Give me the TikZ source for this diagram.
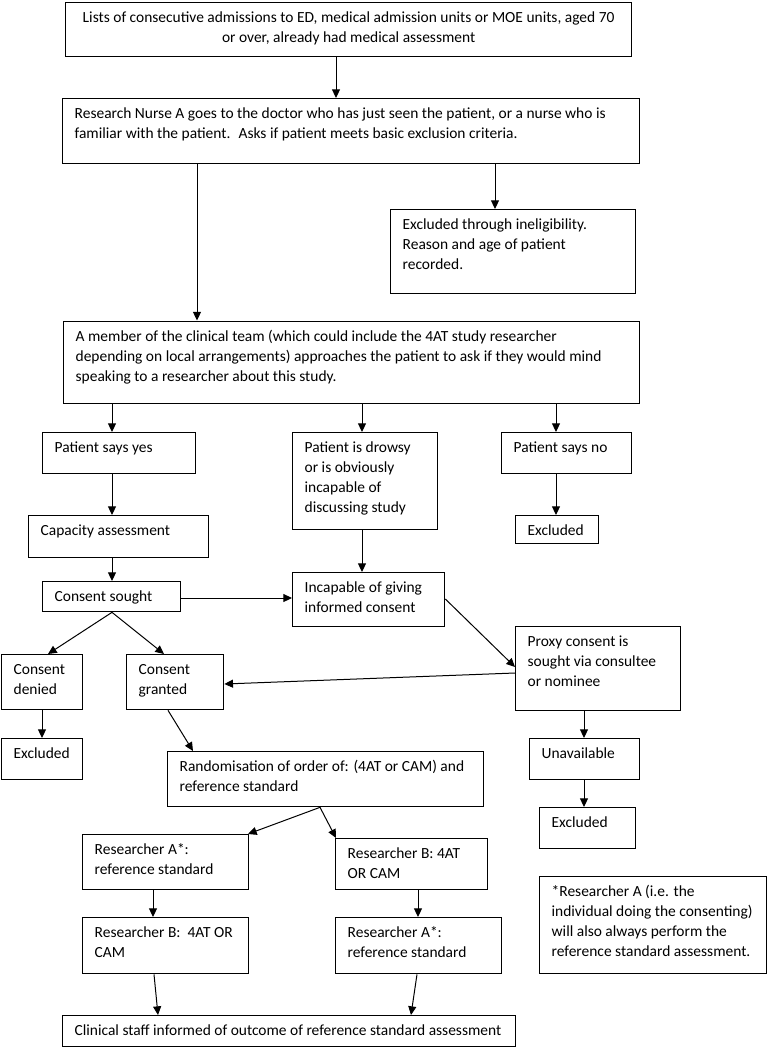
\documentclass[tikz,border=0pt]{standalone}
\usepackage{fontspec}
\setmainfont{Carlito}
\usetikzlibrary{arrows.meta}
\newlength{\pxu}
\setlength{\pxu}{0.75pt}
% box text: width, height (in px), text set from the top left
\newcommand{\flowtext}[3]{\begin{minipage}[t][#2\pxu][t]{#1\pxu}\vspace*{6\pxu}\raggedright\leftskip=12\pxu\relax\strut#3\end{minipage}}

\begin{document}
\begin{tikzpicture}[x=0.75pt,y=-0.75pt,
  box/.style={draw,line width=1pt,inner sep=0pt,anchor=north west,font=\fontsize{11.6}{15}\selectfont},
  arr/.style={-{Triangle[length=6.5pt,width=6pt]},line width=0.75pt}]
\useasboundingbox (0,0) rectangle (767,1047);
\path node (lists) at (65,1.5) [box] {\begin{minipage}[t][54.5\pxu][t]{566\pxu}\vspace*{6\pxu}\centering\strut Lists of consecutive admissions to ED, medical admission units or MOE units, aged 70\\or over, already had medical assessment\end{minipage}}
      node (nurse) at (62,98) [box] {\flowtext{577}{65}{Research Nurse A goes to the doctor who has just seen the patient, or a nurse who is\\familiar with the patient.~ Asks if patient meets basic exclusion criteria.}}
      node (inelig) at (390,209) [box] {\flowtext{245}{84}{Excluded through ineligibility.\\Reason and age of patient\\recorded.}}
      node (member) at (63,320.5) [box] {\flowtext{576}{82.5}{A member of the clinical team (which could include the 4AT study researcher\\depending on local arrangements) approaches the patient to ask if they would mind\\speaking to a researcher about this study.}}
      node (yes) at (42,432) [box] {\flowtext{153}{41}{Patient says yes}}
      node (drowsy) at (292,432) [box] {\flowtext{145}{97}{Patient is drowsy\\or is obviously\\incapable of\\discussing study}}
      node (no) at (501,432) [box] {\flowtext{130}{41}{Patient says no}}
      node (capacity) at (28,515) [box] {\flowtext{180}{42}{Capacity assessment}}
      node (exclno) at (515,515) [box] {\flowtext{83}{28}{Excluded}}
      node (sought) at (42,581) [box] {\flowtext{138}{30}{Consent sought}}
      node (incap) at (292,572) [box] {\flowtext{152}{54}{Incapable of giving\\informed consent}}
      node (denied) at (1,654) [box] {\flowtext{81}{55}{Consent\\denied}}
      node (granted) at (126,654) [box] {\flowtext{97}{55}{Consent\\granted}}
      node (proxy) at (515,626) [box] {\flowtext{165}{84}{Proxy consent is\\sought via consultee\\or nominee}}
      node (excldenied) at (1,738) [box] {\flowtext{81}{41}{Excluded}}
      node (unavail) at (529,738) [box] {\flowtext{110}{41}{Unavailable}}
      node (random) at (167,751) [box] {\flowtext{316}{55}{Randomisation of order of: (4AT or CAM) and\\reference standard}}
      node (exclunavail) at (539,807) [box] {\flowtext{96}{41}{Excluded}}
      node (resAfirst) at (82,834) [box] {\flowtext{166}{55}{Researcher A*:\\reference standard}}
      node (resBfirst) at (335,838) [box] {\flowtext{152}{51}{Researcher B: 4AT\\OR CAM}}
      node (note) at (539,876) [box] {\flowtext{227}{97}{*Researcher A (i.e. the\\individual doing the consenting)\\will also always perform the\\reference standard assessment.}}
      node (resBsecond) at (82,917) [box] {\flowtext{166}{56}{Researcher B:~ 4AT OR\\CAM}}
      node (resAsecond) at (335,917) [box] {\flowtext{166}{56}{Researcher A*:\\reference standard}}
      node (clinical) at (62,1015) [box] {\flowtext{453}{31}{Clinical staff informed of outcome of reference standard assessment}};
\draw [arr] (lists.south -| 336,0) -- (nurse.north -| 336,0);
\draw [arr] (nurse.south -| 495,0) -- (inelig.north -| 495,0);
\draw [arr] (nurse.south -| 197,0) -- (member.north -| 197,0);
\draw [arr] (member.south -| 112,0) -- (yes.north -| 112,0);
\draw [arr] (member.south -| 362,0) -- (drowsy.north -| 362,0);
\draw [arr] (member.south -| 556,0) -- (no.north -| 556,0);
\draw [arr] (yes.south -| 112,0) -- (capacity.north -| 112,0);
\draw [arr] (no.south -| 556,0) -- (exclno.north -| 556,0);
\draw [arr] (capacity.south -| 112,0) -- (sought.north -| 112,0);
\draw [arr] (drowsy.south -| 362,0) -- (incap.north -| 362,0);
\draw [arr] (sought.east |- 0,598) -- (incap.west |- 0,598);
\draw [arr] (sought.south -| 112,0) -- (denied.north -| 48,0);
\draw [arr] (sought.south -| 112,0) -- (granted.north -| 164,0);
\draw [arr] (incap.east |- 0,599) -- (proxy.west |- 0,667);
\draw [arr] (proxy.west |- 0,673) -- (granted.east |- 0,684);
\draw [arr] (denied.south -| 42,0) -- (excldenied.north -| 42,0);
\draw [arr] (granted.south -| 168,0) -- (random.north -| 193,0);
\draw [arr] (proxy.south -| 584,0) -- (unavail.north -| 584,0);
\draw [arr] (unavail.south -| 584,0) -- (exclunavail.north -| 584,0);
\draw [arr] (random.south -| 320,0) -- (resAfirst.north -| 248,0);
\draw [arr] (random.south -| 320,0) -- (resBfirst.north -| 336,0);
\draw [arr] (resAfirst.south -| 153,0) -- (resBsecond.north -| 153,0);
\draw [arr] (resBfirst.south -| 418,0) -- (resAsecond.north -| 418,0);
\draw [arr] (resBsecond.south -| 154,0) -- (clinical.north -| 158,0);
\draw [arr] (resAsecond.south -| 417,0) -- (clinical.north -| 411,0);
\end{tikzpicture}
\end{document}
